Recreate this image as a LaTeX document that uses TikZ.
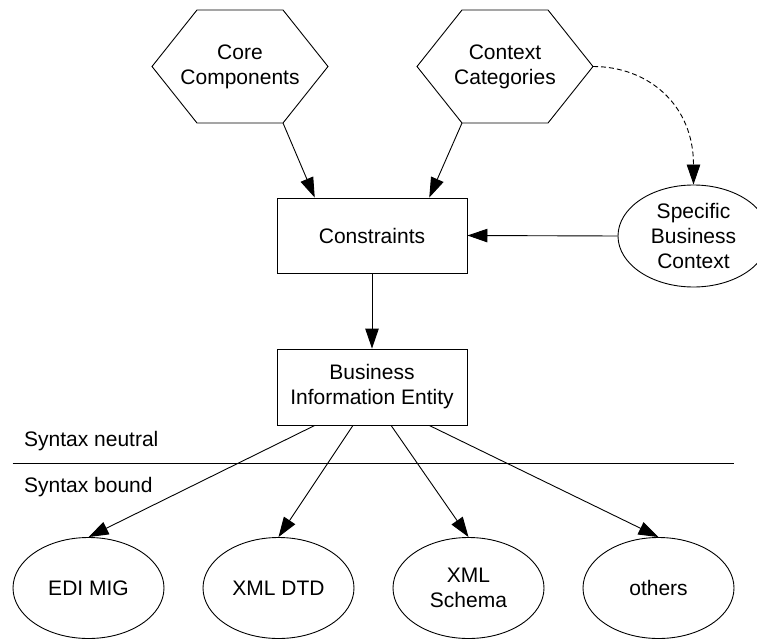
\documentclass[tikz,border=0pt]{standalone}
\usepackage{fontspec}
\setmainfont{Liberation Sans}
\usetikzlibrary{arrows.meta,shapes.geometric,calc}
\begin{document}
\begin{tikzpicture}[x=1pt,y=-1pt,
  every node/.style={font=\fontsize{21}{25}\selectfont, align=center},
  box/.style={draw, line width=0.9pt, minimum width=190pt, minimum height=75pt, inner sep=0pt},
  oval/.style={draw, ellipse, line width=0.9pt, minimum width=151pt, minimum height=101pt, inner sep=0pt},
  conn/.style={line width=0.9pt, -{Triangle[length=20pt,width=13.5pt]}},
  hexline/.style={line width=0.9pt, line join=miter},
  lbl/.style={anchor=base west, inner sep=0pt}
]
\useasboundingbox (0,0) rectangle (757,639);

% hexagon nodes (text) and their outlines
\node (core) at (240,66.5) {Core\\Components};
\node (context) at (505,66.5) {Context\\Categories};
\foreach \h in {core,context}{
  \coordinate (\h-l)  at ($(\h)+(-88,0)$);
  \coordinate (\h-tl) at ($(\h)+(-43,-56.5)$);
  \coordinate (\h-tr) at ($(\h)+(43,-56.5)$);
  \coordinate (\h-r)  at ($(\h)+(88,0)$);
  \coordinate (\h-br) at ($(\h)+(43,56.5)$);
  \coordinate (\h-bl) at ($(\h)+(-43,56.5)$);
}
\draw[hexline] (core-l) -- (core-tl) -- (core-tr) -- (core-r) -- (core-br) -- (core-bl) -- cycle;
\draw[hexline] (context-l) -- (context-tl) -- (context-tr) -- (context-r) -- (context-br) -- (context-bl) -- cycle;

% boxes
\node[box] (constraints) at (372,235.5) {Constraints};
\node[box, minimum height=76pt] (bie) at (372,387) {Business\\Information Entity};

% ellipses
\node[oval, minimum height=102pt] (specific) at (693.5,236) {Specific\\Business\\Context};
\node[oval] (edi) at (88.5,588) {EDI MIG};
\node[oval] (dtd) at (278.5,588) {XML DTD};
\node[oval] (schema) at (468.5,588) {XML\\Schema};
\node[oval] (others) at (658.5,588) {others};

% separator and labels
\coordinate (sepL) at (12.5,463.3);
\coordinate (sepR) at (734,463.3);
\draw[line width=0.9pt] (sepL) -- (sepR);
\node[lbl] (neutral) at (24,446.5) {Syntax neutral};
\node[lbl] (bound) at (24,492.5) {Syntax bound};

% connectors
\draw[conn] (core-br) -- ($(constraints.north west)!0.2!(constraints.north east)$);
\draw[conn] (context-bl) -- ($(constraints.north west)!0.8!(constraints.north east)$);
\draw[conn, dash pattern=on 5pt off 3pt] (context-r) .. controls +(55,0) and +(0,-80) .. (specific.north);
\draw[conn] (specific.west) -- (constraints.east);
\draw[conn] (constraints.south) -- (bie.north);
\draw[conn] ($(bie.south west)!0.2!(bie.south east)$) -- (edi.north);
\draw[conn] ($(bie.south west)!0.4!(bie.south east)$) -- (dtd.north);
\draw[conn] ($(bie.south west)!0.6!(bie.south east)$) -- (schema.north);
\draw[conn] ($(bie.south west)!0.8!(bie.south east)$) -- (others.north);
\end{tikzpicture}
\end{document}
